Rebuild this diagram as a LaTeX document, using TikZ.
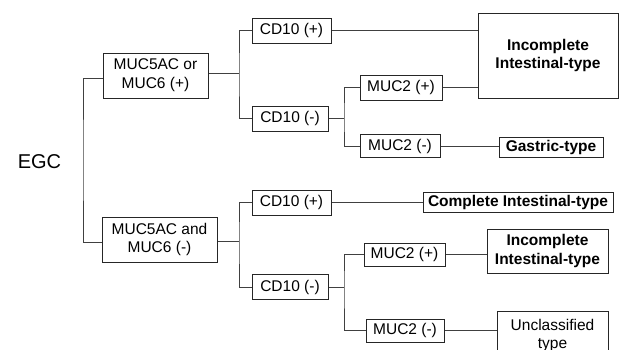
\documentclass[tikz,border=0pt]{standalone}
\usepackage{fontspec}
\setmainfont{Liberation Sans}
\begin{document}
\begin{tikzpicture}[x=1pt,y=-1pt,
  box/.style={draw=black!85,line width=1pt,inner sep=0pt,align=center,
    font=\fontsize{15.5}{18.7}\selectfont,text=black},
  bbox/.style={box,font=\fontsize{15.5}{18.7}\selectfont\bfseries},
  conn/.style={draw=black!75,line width=0.9pt}]
\useasboundingbox (0,0) rectangle (621,349);
\clip (0,0) rectangle (621,349);
\node[font=\fontsize{20}{24}\selectfont] (egc) at (39.5,162) {EGC};
\node[box,minimum width=105,minimum height=45] (m1) at (155.5,75.5) {MUC5AC or\\MUC6 (+)};
\node[box,minimum width=115,minimum height=45] (m2) at (159.5,239.5) {MUC5AC and\\MUC6 (-)};
\node[box,minimum width=79,minimum height=25] (c1) at (291.5,30.5) {CD10 (+)};
\node[box,minimum width=76,minimum height=25] (c2) at (290,118.5) {CD10 (-)};
\node[box,minimum width=79,minimum height=25] (c3) at (291.5,202.5) {CD10 (+)};
\node[box,minimum width=76,minimum height=25] (c4) at (290,287) {CD10 (-)};
\node[box,minimum width=82,minimum height=25] (u1) at (401,87.5) {MUC2 (+)};
\node[box,minimum width=80,minimum height=23] (u2) at (400,146) {MUC2 (-)};
\node[box,minimum width=81,minimum height=23] (u3) at (404.5,254.5) {MUC2 (+)};
\node[box,minimum width=78,minimum height=23] (u4) at (405,330.5) {MUC2 (-)};
\node[bbox,minimum width=140,minimum height=85] (r1) at (548,55.5) {Incomplete\\Intestinal-type};
\node[bbox,minimum width=104,minimum height=20] (r2) at (551,147) {Gastric-type};
\node[bbox,minimum width=190,minimum height=20] (r3) at (518,202) {Complete Intestinal-type};
\node[bbox,minimum width=121,minimum height=44] (r4) at (547.5,251) {Incomplete\\Intestinal-type};
\node[box,minimum width=111,minimum height=49] (r5) at (552.5,335.5) {Unclassified\\type};
\coordinate (b0) at (83,160);
\coordinate (b1) at (239,75);
\coordinate (b2) at (239,241);
\coordinate (b3) at (344,118);
\coordinate (b4) at (344,287);
\path[conn] ([yshift=-2.5pt]m1.west) -| (b0) |- ([yshift=-2.5pt]m2.west);
\path[conn] ([yshift=2.5pt]m1.east) -- ([yshift=2.5pt]m1.east -| b1);
\path[conn] (c1.west) -| (b1) |- (c2.west);
\path[conn] ([yshift=-1.5pt]m2.east) -- ([yshift=-1.5pt]m2.east -| b2);
\path[conn] (c3.west) -| (b2) |- (c4.west);
\path[conn] (c2.east) -- (c2.east -| b3);
\path[conn] (u1.west) -| (b3) |- (u2.west);
\path[conn] (c4.east) -- (c4.east -| b4);
\path[conn] (u3.west) -| (b4) |- (u4.west);
\path[conn] (c1.east) -- (c1.east -| r1.west);
\path[conn] (u1.east) -- (u1.east -| r1.west);
\path[conn] (u2.east) -- (u2.east -| r2.west);
\path[conn] (c3.east) -- (c3.east -| r3.west);
\path[conn] (u3.east) -- (u3.east -| r4.west);
\path[conn] (u4.east) -- (u4.east -| r5.west);
\end{tikzpicture}
\end{document}
